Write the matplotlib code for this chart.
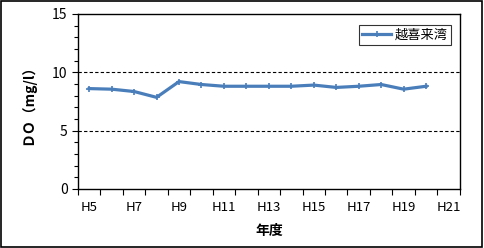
import numpy as np
import matplotlib.pyplot as plt
from matplotlib.patches import Rectangle

plt.rcParams['font.family'] = ['Noto Sans CJK JP', 'DejaVu Sans']

years = ["H5", "H6", "H7", "H8", "H9", "H10", "H11", "H12", "H13",
         "H14", "H15", "H16", "H17", "H18", "H19", "H20", "H21"]
do_values = [8.6, 8.55, 8.35, 7.85, 9.2, 8.95, 8.8, 8.8, 8.8,
             8.8, 8.9, 8.7, 8.8, 8.95, 8.55, 8.8]
series_name = "越喜来湾"

fig = plt.figure(figsize=(4.84, 2.48), dpi=100)
fig.patches.append(Rectangle((0.002, 0.004), 0.994, 0.99, transform=fig.transFigure,
                             fill=False, edgecolor="black", linewidth=1.2))
ax = fig.add_axes([0.161, 0.238, 0.789, 0.706])

x = np.arange(len(do_values))
ax.plot(x, do_values, color="#4a7ebb", linewidth=2.3, marker="+",
        markersize=4, markeredgewidth=1.2, label=series_name)

ax.set_xlim(-0.5, len(years) - 0.5)
ax.set_ylim(0, 15)
ax.set_yticks([0, 5, 10, 15])
ax.set_yticks(np.arange(0, 16, 1), minor=True)
ax.set_xticks(np.arange(len(years) + 1) - 0.5)
ax.set_xticklabels([])
ax.tick_params(axis="x", which="major", direction="out", length=4, width=0.8)
ax.tick_params(axis="y", which="both", direction="out", length=4, width=0.8, labelsize=10)
ax.tick_params(axis="y", which="minor", length=3)
for i in range(0, len(years), 2):
    ax.text(i, -0.07, years[i], transform=ax.get_xaxis_transform(),
            ha="center", va="top", fontsize=9.5)

for v in [5, 10]:
    ax.axhline(v, color="black", linestyle=(0, (3, 2)), linewidth=0.8)

for s in ax.spines.values():
    s.set_linewidth(1.0)

ax.set_ylabel("ＤＯ（mg/l）", fontsize=10, fontweight="bold", labelpad=12)
ax.set_xlabel("年度", fontsize=10, fontweight="bold", labelpad=18)

leg = ax.legend(loc="upper right", bbox_to_anchor=(0.978, 0.935), fontsize=9.5,
                frameon=True, fancybox=False, handlelength=2.2, borderpad=0.25,
                handletextpad=0.3, borderaxespad=0)
leg.get_frame().set_edgecolor("black")
leg.get_frame().set_linewidth(0.8)

fig.savefig("out.png", dpi=100)
